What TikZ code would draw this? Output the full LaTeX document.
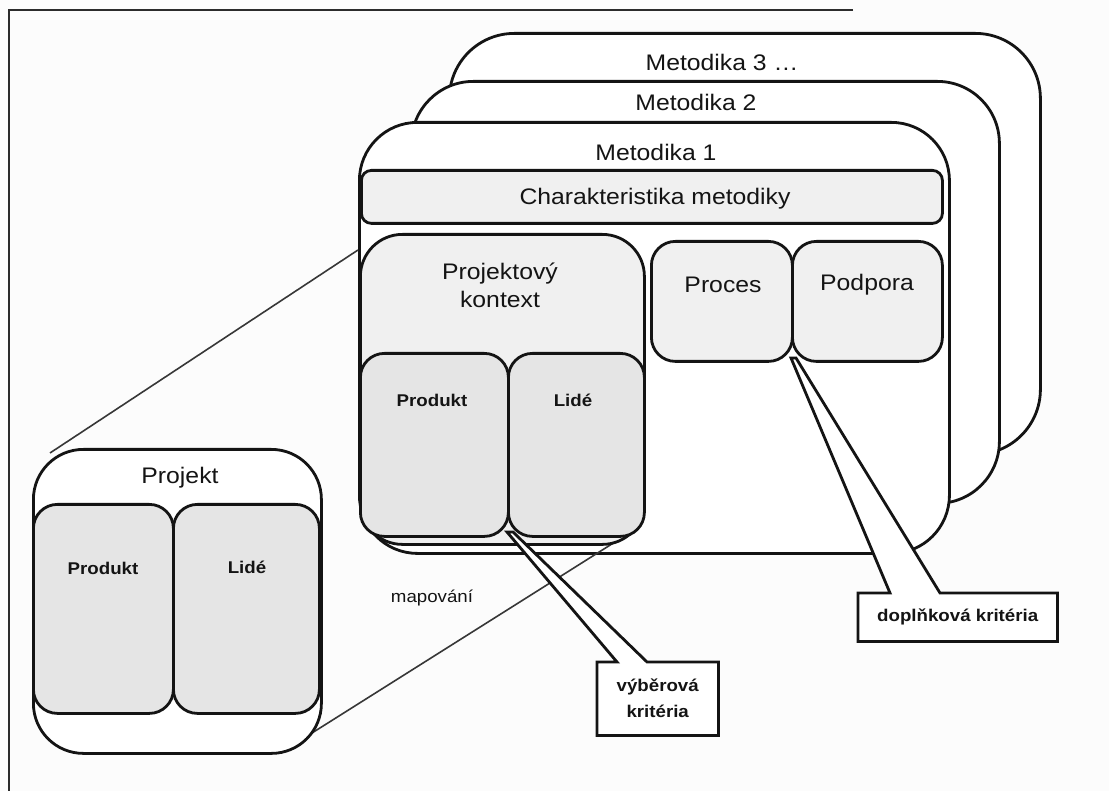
\documentclass[tikz,border=0pt]{standalone}
\usepackage{fontspec}
\setmainfont{Liberation Sans}[FakeStretch=1.1]
\usetikzlibrary{calc}
\definecolor{ink}{HTML}{141414}
\definecolor{paper}{HTML}{FCFCFC}
\definecolor{paleg}{HTML}{F0F0F0}
\definecolor{midg}{HTML}{E5E5E5}
\tikzset{
  panel/.style={draw=ink, line width=2.8pt, fill=white, inner sep=0pt, anchor=north west},
  shaded/.style={panel, fill=paleg},
  darkshaded/.style={panel, fill=midg},
  title/.style={font=\fontsize{22.5pt}{28pt}\selectfont, inner sep=0pt, align=center, text=ink},
  boldlbl/.style={font=\bfseries\fontsize{17pt}{26pt}\selectfont, inner sep=0pt, align=center, text=ink},
  mapline/.style={draw=ink!85, line width=1.6pt},
  callout/.style={draw=ink, line width=2.8pt, fill=white, line join=miter},
  frameline/.style={draw=ink!90, line width=2.2pt}
}
\begin{document}
\begin{tikzpicture}[x=1pt, y=-1pt]
  % page
  \fill[paper] (0,0) rectangle (1109,791);
  \useasboundingbox (0,0) rectangle (1109,791);
  \draw[frameline] (853,10) -- (9,10) -- (9,791);

  % stack of methodologies
  \node[panel, rounded corners=65pt, minimum width=591pt, minimum height=421pt] (m3) at (448,32) {};
  \node[panel, rounded corners=62pt, minimum width=588pt, minimum height=422pt] (m2) at (410,80) {};
  \node[panel, rounded corners=58pt, minimum width=590pt, minimum height=431pt] (m1) at (358,121) {};

  \node[title] (t3) at (722,62) {Metodika 3 \dots};
  \node[title] (t2) at (696,102) {Metodika 2};
  \node[title] (t1) at (656,152) {Metodika 1};

  % mapping lines from the project to the project context
  \coordinate (mapA1) at (50,453);
  \coordinate (mapA2) at (358,250);
  \coordinate (mapB1) at (312,733);
  \coordinate (mapB2) at (615,542);
  \draw[mapline] (mapA1) -- (mapA2);
  \draw[mapline] (mapB1) -- (mapB2);

  % contents of Metodika 1
  \node[shaded, rounded corners=10pt, minimum width=581pt, minimum height=53pt] (char) at (360,169) {};
  \node[title] (tchar) at (655,199) {Charakteristika metodiky};

  \node[shaded, rounded corners=24pt, minimum width=141pt, minimum height=120pt] (proc) at (650,240) {};
  \node[shaded, rounded corners=24pt, minimum width=150pt, minimum height=120pt] (podp) at (791,240) {};
  \node[title] (tproc) at (723,285) {Proces};
  \node[title] (tpodp) at (867,285) {Podpora};

  \node[shaded, rounded corners=42pt, minimum width=284pt, minimum height=310pt] (ctx) at (359,233) {};
  \node[title] (tctx) at (500,285) {Projektový\\kontext};
  \node[darkshaded, rounded corners=24pt, minimum width=148pt, minimum height=183pt] (cprod) at (359,352) {};
  \node[darkshaded, rounded corners=24pt, minimum width=136pt, minimum height=183pt] (clide) at (507,352) {};
  \node[boldlbl] (tcprod) at (432,400) {Produkt};
  \node[boldlbl] (tclide) at (573,400) {Lidé};

  % the project
  \node[panel, rounded corners=50pt, minimum width=288pt, minimum height=304pt] (proj) at (32,448) {};
  \node[title] (tproj) at (180,478) {Projekt};
  \node[darkshaded, rounded corners=24pt, minimum width=140pt, minimum height=209pt] (pprod) at (32,503) {};
  \node[darkshaded, rounded corners=24pt, minimum width=146pt, minimum height=209pt] (plide) at (172,503) {};
  \node[boldlbl] (tpprod) at (103,568) {Produkt};
  \node[boldlbl] (tplide) at (247,567) {Lidé};

  \node[font=\fontsize{17pt}{20pt}\selectfont, text=ink, inner sep=0pt] (tmap) at (432,598) {mapování};

  % callout: selection criteria
  \node[inner sep=0pt, anchor=north west, minimum width=121pt, minimum height=73pt] (vyb) at (597,662) {};
  \coordinate (vtipL) at (507,532);
  \coordinate (vtipR) at (513,532);
  \draw[callout] (vyb.north west) -- ($(vyb.north west)+(20,0)$) -- (vtipL) -- (vtipR)
     -- ($(vyb.north west)+(50,0)$) -- (vyb.north east) -- (vyb.south east) -- (vyb.south west) -- cycle;
  \node[boldlbl] (tvyb) at (vyb.center) {výběrová\\kritéria};

  % callout: complementary criteria
  \node[inner sep=0pt, anchor=north west, minimum width=199pt, minimum height=48pt] (dop) at (858,593) {};
  \coordinate (dtipL) at (791,358);
  \coordinate (dtipR) at (796,358);
  \draw[callout] (dop.north west) -- ($(dop.north west)+(32,0)$) -- (dtipL) -- (dtipR)
     -- ($(dop.north west)+(82,0)$) -- (dop.north east) -- (dop.south east) -- (dop.south west) -- cycle;
  \node[boldlbl] (tdop) at (dop.center) {doplňková kritéria};
\end{tikzpicture}
\end{document}
